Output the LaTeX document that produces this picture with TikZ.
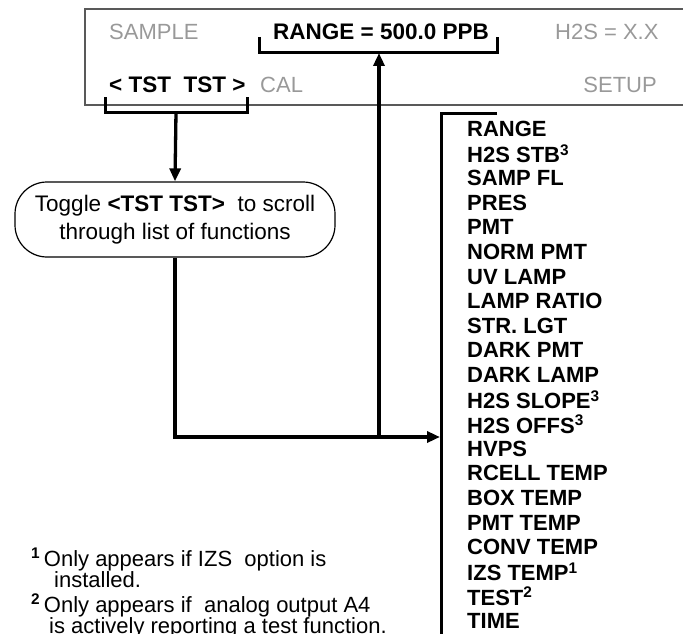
\documentclass[tikz,border=0pt]{standalone}
\usepackage{fontspec}
\setmainfont{Liberation Sans}
\usetikzlibrary{positioning,arrows.meta}
\newcommand{\fnmark}[1]{\textsuperscript{\textbf{#1}}}

\begin{document}
\begin{tikzpicture}[x=1pt, y=-1pt,
  screen/.style={draw=gray!70!black, line width=1.3pt},
  dimtxt/.style={font=\fontsize{22}{24}\selectfont, text=gray!80, inner sep=0pt},
  keytxt/.style={font=\fontsize{22.5}{24}\selectfont\bfseries, inner sep=0pt},
  item/.style={font=\fontsize{22}{24}\selectfont\bfseries, anchor=west, inner sep=0pt},
  note/.style={font=\fontsize{22}{21.5}\selectfont, anchor=west, inner sep=0pt, align=left},
  brace/.style={line width=3pt},
  arr/.style={line width=3.3pt, -{Triangle[length=13pt,width=11pt]}},
  bubble/.style={draw, line width=1.2pt, rounded corners=32pt, minimum width=320pt,
                 minimum height=75pt, align=center, inner sep=0pt,
                 font=\fontsize{22.5}{28}\selectfont},
]
\useasboundingbox (0,0) rectangle (683,634);

% --- front panel display ---
\draw[screen] (684,9) -- (85,9) -- (85,105) -- (684,105);
\node[dimtxt, anchor=west] (sample) at (109,32) {SAMPLE};
\node[keytxt] (range) at (381,32) {RANGE = 500.0 PPB};
\node[dimtxt, anchor=west] (conc) at (555,32) {H2S = X.X};
\node[keytxt, anchor=west] (tst) at (109,85) {< TST\ \ TST >};
\node[dimtxt, anchor=west] (cal) at (260,85) {CAL};
\node[dimtxt, anchor=east] (setup) at (657,85) {SETUP};

% brackets under the fields
\draw[brace] (105,97) -- (105,112) -- (247,112) -- (247,97);
\draw[brace] (259,37) -- (259,53) -- (497,53) -- (497,37);
\coordinate (tstmid) at (176,112);
\coordinate (rngmid) at (379,53);

% --- toggle hint ---
\node[bubble] (toggle) at (175,219.5)
  {Toggle \textbf{<TST TST>}\ \ to scroll\\through list of functions};

% --- list of test functions ---
\draw[brace] (497,113) -- (441,113) -- (441,640);
\foreach \lbl [count=\i from 0] in {RANGE, H2S STB\textsuperscript{3}, SAMP FL, PRES, PMT,
    NORM PMT, UV LAMP, LAMP RATIO, STR. LGT, DARK PMT, DARK LAMP,
    H2S SLOPE\textsuperscript{3}, H2S OFFS\textsuperscript{3}, HVPS, RCELL TEMP,
    BOX TEMP, PMT TEMP, CONV TEMP, IZS TEMP\textsuperscript{1}, TEST\textsuperscript{2}, TIME}
  \node[item] (fn\i) at (467,129+24.6*\i) {\lbl};
\coordinate (listin) at (440,437);
\coordinate (join) at (379,437);

\draw[arr] (tstmid) -- (toggle.north);
\draw[arr] (toggle.south) |- (listin);
\draw[arr] (join) -- (rngmid);

% --- footnotes ---
\node[note] (note1) at (31,568)
  {\fnmark{1}\,Only appears if IZS\ \ option is\\\hspace*{23pt}installed.};
\node[note] (note2) at (31,616)
  {\fnmark{2}\,Only appears if\ \ analog output A4\\\hspace*{18pt}is actively reporting a test function.};
\end{tikzpicture}
\end{document}
